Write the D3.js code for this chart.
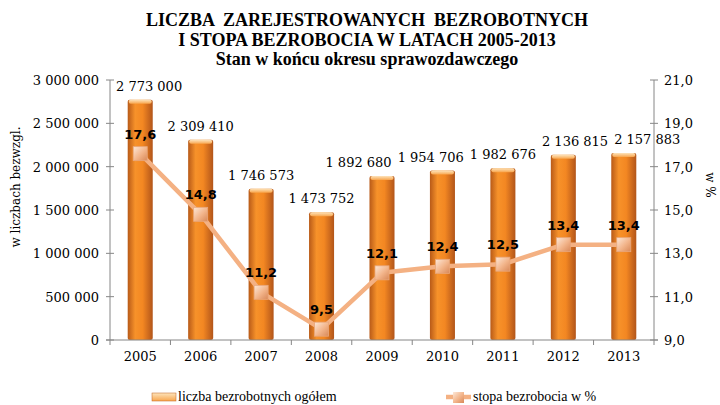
<!DOCTYPE html>
<html>
<head>
<meta charset="utf-8">
<script src="https://cdn.jsdelivr.net/npm/d3@7"></script>
<style>
  body { margin: 0; background: #fff; }
  svg { display: block; }
</style>
</head>
<body>
<div id="chart"></div>
<script>
// data
const years = ['2005', '2006', '2007', '2008', '2009', '2010', '2011', '2012', '2013'];
const unemployed = [2773000, 2309410, 1746573, 1473752, 1892680, 1954706, 1982676, 2136815, 2157883];
const rate = [17.6, 14.8, 11.2, 9.5, 12.1, 12.4, 12.5, 13.4, 13.4];
const leftTicks = [0, 500000, 1000000, 1500000, 2000000, 2500000, 3000000];
const rightTicks = [9, 11, 13, 15, 17, 19, 21];
const titleLines = [
  'LICZBA  ZAREJESTROWANYCH  BEZROBOTNYCH',
  'I STOPA BEZROBOCIA W LATACH 2005-2013',
  'Stan w końcu okresu sprawozdawczego',
];

const W = 720, H = 405;
const plot = { left: 110, right: 654, top: 80, bottom: 340 };
const serif = '"DejaVu Serif", serif';

// polish style numbers: space as thousands separator, comma as decimal
const fmtInt = (v) => d3.format(',')(v).replace(/,/g, ' ');
const fmtPct = (v) => d3.format('.1f')(v).replace('.', ',');

const svg = d3.select('#chart').append('svg')
  .attr('width', W)
  .attr('height', H);

const defs = svg.append('defs');

// bar body: darker edges, bright middle
const barGrad = defs.append('linearGradient').attr('id', 'barGrad')
  .attr('x1', '0%').attr('x2', '100%').attr('y1', '0%').attr('y2', '0%');
barGrad.append('stop').attr('offset', '0%').attr('stop-color', '#b85a18');
barGrad.append('stop').attr('offset', '30%').attr('stop-color', '#f7922a');
barGrad.append('stop').attr('offset', '60%').attr('stop-color', '#f38722');
barGrad.append('stop').attr('offset', '100%').attr('stop-color', '#b2551a');

const capGrad = defs.append('linearGradient').attr('id', 'capGrad')
  .attr('x1', '0%').attr('x2', '0%').attr('y1', '0%').attr('y2', '100%');
capGrad.append('stop').attr('offset', '0%').attr('stop-color', '#fde4bc');
capGrad.append('stop').attr('offset', '100%').attr('stop-color', '#f8a64e');

const markGrad = defs.append('linearGradient').attr('id', 'markGrad')
  .attr('x1', '0%').attr('x2', '100%').attr('y1', '0%').attr('y2', '100%');
markGrad.append('stop').attr('offset', '0%').attr('stop-color', '#fde8d8');
markGrad.append('stop').attr('offset', '55%').attr('stop-color', '#f2b48a');
markGrad.append('stop').attr('offset', '100%').attr('stop-color', '#d88858');

// scales
const x = d3.scaleBand()
  .domain(years)
  .range([plot.left, plot.right])
  .paddingInner(0.586)
  .paddingOuter(0.293);
const cx = (year) => x(year) + x.bandwidth() / 2;

const yLeft = d3.scaleLinear().domain([0, 3000000]).range([plot.bottom, plot.top]);
const yRight = d3.scaleLinear().domain([9, 21]).range([plot.bottom, plot.top]);

// title
svg.append('g')
  .selectAll('text')
  .data(titleLines)
  .enter()
  .append('text')
  .attr('x', 367)
  .attr('y', (d, i) => 26 + i * 19.5)
  .attr('text-anchor', 'middle')
  .attr('font-family', '"Liberation Serif", serif')
  .attr('font-weight', 'bold')
  .attr('font-size', 18)
  .style('white-space', 'pre')
  .text((d) => d);

// bars
const bars = svg.append('g')
  .selectAll('g')
  .data(years.map((y, i) => ({ year: y, value: unemployed[i] })))
  .enter()
  .append('g');

bars.append('rect')
  .attr('x', (d) => x(d.year))
  .attr('y', (d) => yLeft(d.value))
  .attr('width', x.bandwidth())
  .attr('height', (d) => plot.bottom - yLeft(d.value))
  .attr('rx', 2)
  .attr('fill', 'url(#barGrad)');

bars.append('rect')
  .attr('x', (d) => x(d.year) + 1)
  .attr('y', (d) => yLeft(d.value))
  .attr('width', x.bandwidth() - 2)
  .attr('height', 4)
  .attr('rx', 2)
  .attr('fill', 'url(#capGrad)');

// axes
const axisColor = '#868686';

const xAxis = svg.append('g').attr('transform', `translate(0,${plot.bottom})`);
xAxis.append('line')
  .attr('x1', plot.left - 4).attr('x2', plot.right + 4)
  .attr('stroke', axisColor);
xAxis.selectAll('line.tick')
  .data(d3.range(years.length + 1))
  .enter()
  .append('line')
  .attr('class', 'tick')
  .attr('x1', (i) => plot.left + i * x.step())
  .attr('x2', (i) => plot.left + i * x.step())
  .attr('y1', 0)
  .attr('y2', 5)
  .attr('stroke', axisColor);
xAxis.selectAll('text')
  .data(years)
  .enter()
  .append('text')
  .attr('x', (d) => cx(d))
  .attr('y', 21)
  .attr('text-anchor', 'middle')
  .attr('font-family', serif)
  .attr('font-size', 13)
  .text((d) => d);

const leftAxis = svg.append('g');
leftAxis.append('line')
  .attr('x1', plot.left).attr('x2', plot.left)
  .attr('y1', plot.top).attr('y2', plot.bottom)
  .attr('stroke', axisColor);
leftAxis.selectAll('line.tick')
  .data(leftTicks)
  .enter()
  .append('line')
  .attr('x1', plot.left - 4).attr('x2', plot.left + 4)
  .attr('y1', (d) => yLeft(d)).attr('y2', (d) => yLeft(d))
  .attr('stroke', axisColor);
leftAxis.selectAll('text')
  .data(leftTicks)
  .enter()
  .append('text')
  .attr('x', plot.left - 11)
  .attr('y', (d) => yLeft(d) + 5)
  .attr('text-anchor', 'end')
  .attr('font-family', serif)
  .attr('font-size', 13)
  .text((d) => fmtInt(d));

const rightAxis = svg.append('g');
rightAxis.append('line')
  .attr('x1', plot.right).attr('x2', plot.right)
  .attr('y1', plot.top).attr('y2', plot.bottom)
  .attr('stroke', axisColor);
rightAxis.selectAll('line.tick')
  .data(rightTicks)
  .enter()
  .append('line')
  .attr('x1', plot.right - 4).attr('x2', plot.right + 4)
  .attr('y1', (d) => yRight(d)).attr('y2', (d) => yRight(d))
  .attr('stroke', axisColor);
rightAxis.selectAll('text')
  .data(rightTicks)
  .enter()
  .append('text')
  .attr('x', plot.right + 10)
  .attr('y', (d) => yRight(d) + 5)
  .attr('font-family', serif)
  .attr('font-size', 13)
  .text((d) => fmtPct(d));

// axis titles
svg.append('text')
  .attr('transform', 'translate(20,187) rotate(-90)')
  .attr('text-anchor', 'middle')
  .attr('font-family', serif)
  .attr('font-size', 12)
  .text('w liczbach bezwzgl.');

svg.append('text')
  .attr('transform', 'translate(706,185) rotate(90)')
  .attr('text-anchor', 'middle')
  .attr('font-family', serif)
  .attr('font-size', 12)
  .text('w %');

// bar value labels
const valueLabels = bars.append('text')
  .attr('x', (d) => cx(d.year))
  .attr('y', (d) => yLeft(d.value) - 9)
  .attr('text-anchor', 'middle')
  .attr('font-family', serif)
  .attr('font-size', 13)
  .text((d) => fmtInt(d.value));

// spread labels apart where neighbours collide (like the spreadsheet did)
const boxes = [];
valueLabels.each(function (d) {
  const b = this.getBBox();
  boxes.push({ node: this, c: cx(d.year), y: b.y, w: b.width, h: b.height });
});
boxes[0].c = Math.max(boxes[0].c, plot.left + boxes[0].w / 2 + 6);
for (let iter = 0; iter < 40; iter++) {
  for (let i = 1; i < boxes.length; i++) {
    const a = boxes[i - 1], b = boxes[i];
    const vOverlap = Math.abs(a.y - b.y) < a.h;
    const need = (a.w + b.w) / 2 + 6;
    const gap = b.c - a.c;
    if (vOverlap && gap < need) {
      const push = (need - gap) / 2;
      a.c -= push;
      b.c += push;
    }
  }
}
boxes.forEach((b) => d3.select(b.node).attr('x', b.c));

// rate line
const pts = years.map((y, i) => ({ year: y, value: rate[i] }));
const line = d3.line()
  .x((d) => cx(d.year))
  .y((d) => yRight(d.value));

svg.append('path')
  .datum(pts)
  .attr('d', line)
  .attr('fill', 'none')
  .attr('stroke', '#f4b183')
  .attr('stroke-width', 4.5)
  .attr('stroke-linejoin', 'round');

const marks = svg.append('g')
  .selectAll('g')
  .data(pts)
  .enter()
  .append('g')
  .attr('transform', (d) => `translate(${cx(d.year)},${yRight(d.value)})`);

marks.append('rect')
  .attr('x', -7).attr('y', -7)
  .attr('width', 14).attr('height', 14)
  .attr('fill', 'url(#markGrad)')
  .attr('stroke', '#e8a77c')
  .attr('stroke-width', 0.8);

marks.append('text')
  .attr('y', -15)
  .attr('text-anchor', 'middle')
  .attr('font-family', '"DejaVu Sans", sans-serif')
  .attr('font-weight', 'bold')
  .attr('font-size', 13)
  .text((d) => fmtPct(d.value));

// legend
const legend = svg.append('g');
legend.append('rect')
  .attr('x', 152).attr('y', 393)
  .attr('width', 24).attr('height', 8)
  .attr('fill', 'url(#capGrad)')
  .attr('stroke', '#c0621c')
  .attr('stroke-width', 0.5);
legend.append('text')
  .attr('x', 178).attr('y', 401)
  .attr('font-family', '"Liberation Serif", serif')
  .attr('font-size', 14)
  .text('liczba bezrobotnych ogółem');

legend.append('line')
  .attr('x1', 446).attr('x2', 471)
  .attr('y1', 397).attr('y2', 397)
  .attr('stroke', '#f4b183')
  .attr('stroke-width', 4.5);
legend.append('rect')
  .attr('x', 453).attr('y', 392)
  .attr('width', 11).attr('height', 11)
  .attr('fill', 'url(#markGrad)');
legend.append('text')
  .attr('x', 473).attr('y', 401)
  .attr('font-family', '"Liberation Serif", serif')
  .attr('font-size', 14)
  .text('stopa bezrobocia w %');
</script>
</body>
</html>
